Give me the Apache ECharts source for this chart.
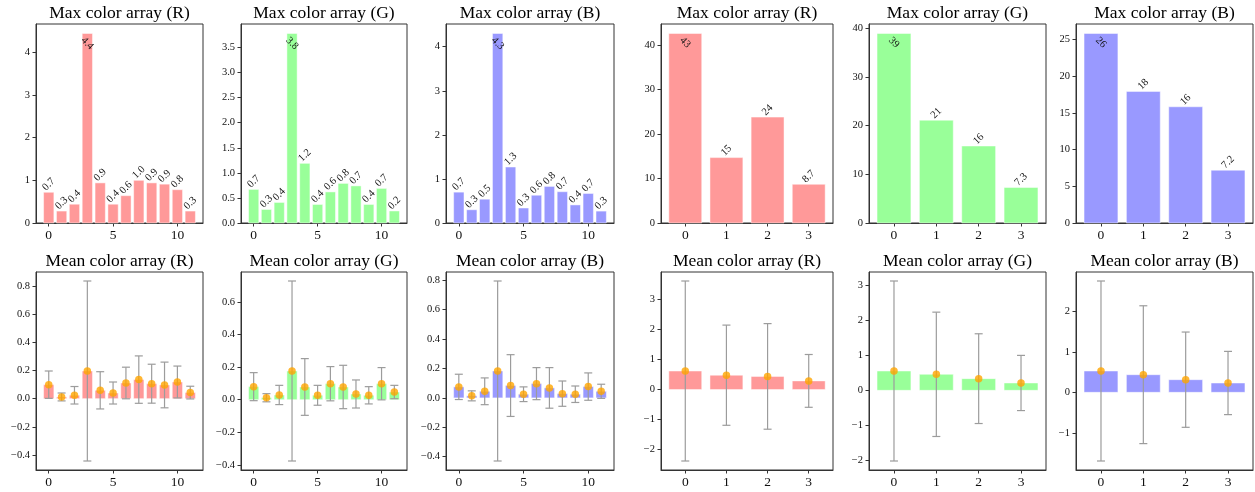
<!DOCTYPE html>
<html><head><meta charset="utf-8">
<script src="https://cdn.jsdelivr.net/npm/echarts@6/dist/echarts.min.js"></script>
<style>html,body{margin:0;padding:0;background:#fff}#c{width:1255px;height:492px}</style>
</head><body><div id="c"></div>
<script>
// ---------- data ----------
const idx12 = [0,1,2,3,4,5,6,7,8,9,10,11];
const idx4 = [0,1,2,3];

const max12R = [0.72, 0.28, 0.44, 4.44, 0.94, 0.44, 0.64, 1.00, 0.94, 0.91, 0.78, 0.28];
const max12G = [0.67, 0.27, 0.41, 3.78, 1.19, 0.37, 0.62, 0.79, 0.74, 0.37, 0.69, 0.24];
const max12B = [0.70, 0.30, 0.54, 4.30, 1.27, 0.34, 0.63, 0.83, 0.71, 0.41, 0.67, 0.27];
const max4R = [42.6, 14.7, 23.8, 8.7];
const max4G = [38.9, 21.1, 15.8, 7.3];
const max4B = [25.85, 17.95, 15.85, 7.2];

const mean12R = [0.099, 0.012, 0.024, 0.196, 0.059, 0.040, 0.111, 0.135, 0.106, 0.097, 0.118, 0.043];
const std12R  = [0.097, 0.028, 0.062, 0.638, 0.132, 0.078, 0.112, 0.168, 0.138, 0.162, 0.113, 0.045];
const mean12G = [0.080, 0.012, 0.029, 0.176, 0.078, 0.027, 0.098, 0.078, 0.035, 0.027, 0.098, 0.047];
const std12G  = [0.086, 0.025, 0.059, 0.552, 0.174, 0.061, 0.105, 0.133, 0.086, 0.053, 0.099, 0.041];
const mean12B = [0.075, 0.014, 0.045, 0.183, 0.084, 0.025, 0.097, 0.068, 0.029, 0.025, 0.077, 0.045];
const std12B  = [0.086, 0.034, 0.091, 0.612, 0.210, 0.050, 0.109, 0.138, 0.086, 0.056, 0.093, 0.048];
const mean4R = [0.62, 0.48, 0.44, 0.29];
const std4R  = [3.00, 1.67, 1.76, 0.88];
const mean4G = [0.553, 0.458, 0.334, 0.21];
const std4G  = [2.577, 1.78, 1.285, 0.79];
const mean4B = [0.526, 0.435, 0.312, 0.23];
const std4B  = [2.22, 1.70, 1.175, 0.78];

const xTicks12 = [0, 5, 10];
const xTicks4 = [0, 1, 2, 3];
const yTicksMax12R = [0, 1, 2, 3, 4];
const yTicksMax12G = [0, 0.5, 1, 1.5, 2, 2.5, 3, 3.5];
const yTicksMax12B = [0, 1, 2, 3, 4];
const yTicksMax4R = [0, 10, 20, 30, 40];
const yTicksMax4G = [0, 10, 20, 30, 40];
const yTicksMax4B = [0, 5, 10, 15, 20, 25];
const yTicksMean12R = [-0.4, -0.2, 0, 0.2, 0.4, 0.6, 0.8];
const yTicksMean12G = [-0.4, -0.2, 0, 0.2, 0.4, 0.6];
const yTicksMean12B = [-0.4, -0.2, 0, 0.2, 0.4, 0.6, 0.8];
const yTicksMean4R = [-2, -1, 0, 1, 2, 3];
const yTicksMean4G = [-2, -1, 0, 1, 2, 3];
const yTicksMean4B = [-1, 0, 1, 2];

const titlesMax = ['Max color array (R)', 'Max color array (G)', 'Max color array (B)'];
const titlesMean = ['Mean color array (R)', 'Mean color array (G)', 'Mean color array (B)'];
const barColors = ['#ff9999', '#99ff99', '#9999ff'];

// ---------- layout ----------
const colLeft = [36, 241, 446, 661, 869, 1076];
const colWidth = [167, 166, 168, 172, 177, 177];
const rowTop = [24, 272];
const rowHeight = [199, 198];
const FONT = '"Liberation Serif", "Times New Roman", serif';

const measureCtx = document.createElement('canvas').getContext('2d');
function textWidth(t, size) { measureCtx.font = size + 'px ' + FONT; return measureCtx.measureText(t).width; }
function fmtLabel(v) { return v >= 10 ? String(Math.round(v)) : v.toFixed(1); }
function fmtTick(dec) { return v => (dec ? v.toFixed(dec) : String(Math.round(v))).replace('-', '\u2212'); }

const topPanels = [
  {x: idx12, v: max12R, c: 0, yt: yTicksMax12R, dec: 0, xt: xTicks12},
  {x: idx12, v: max12G, c: 1, yt: yTicksMax12G, dec: 1, xt: xTicks12},
  {x: idx12, v: max12B, c: 2, yt: yTicksMax12B, dec: 0, xt: xTicks12},
  {x: idx4, v: max4R, c: 0, yt: yTicksMax4R, dec: 0, xt: xTicks4},
  {x: idx4, v: max4G, c: 1, yt: yTicksMax4G, dec: 0, xt: xTicks4},
  {x: idx4, v: max4B, c: 2, yt: yTicksMax4B, dec: 0, xt: xTicks4}
];
const botPanels = [
  {x: idx12, m: mean12R, s: std12R, c: 0, yt: yTicksMean12R, dec: 1, xt: xTicks12},
  {x: idx12, m: mean12G, s: std12G, c: 1, yt: yTicksMean12G, dec: 1, xt: xTicks12},
  {x: idx12, m: mean12B, s: std12B, c: 2, yt: yTicksMean12B, dec: 1, xt: xTicks12},
  {x: idx4, m: mean4R, s: std4R, c: 0, yt: yTicksMean4R, dec: 0, xt: xTicks4},
  {x: idx4, m: mean4G, s: std4G, c: 1, yt: yTicksMean4G, dec: 0, xt: xTicks4},
  {x: idx4, m: mean4B, s: std4B, c: 2, yt: yTicksMean4B, dec: 0, xt: xTicks4}
];

const grid = [], xAxis = [], yAxis = [], series = [], title = [];
const LABEL_SIZE = 10.5;

function addAxes(k, row, col, xs, xt, yMin, yMax, yt, dec) {
  grid.push({left: colLeft[col], top: rowTop[row], width: colWidth[col], height: rowHeight[row],
    show: true, borderColor: '#333', borderWidth: 1, backgroundColor: 'transparent', containLabel: false});
  const xlo = xs[0] - 0.4, xhi = xs[xs.length - 1] + 0.4, xpad = 0.05 * (xhi - xlo);
  xAxis.push({type: 'value', gridIndex: k, min: xlo - xpad, max: xhi + xpad,
    axisLine: {show: true, onZero: false, lineStyle: {color: '#333', width: 1}},
    splitLine: {show: false},
    axisTick: {show: true, length: 3.5, lineStyle: {color: '#333'}, customValues: xt},
    axisLabel: {show: true, customValues: xt, fontFamily: FONT, fontSize: 13.5, color: '#111', margin: 5.5,
      formatter: v => String(v)}});
  yAxis.push({type: 'value', gridIndex: k, min: yMin, max: yMax,
    axisLine: {show: true, onZero: false, lineStyle: {color: '#333', width: 1}},
    splitLine: {show: false},
    axisTick: {show: true, length: 3.5, lineStyle: {color: '#333'}, customValues: yt},
    axisLabel: {show: true, customValues: yt, fontFamily: FONT, fontSize: 10.5, color: '#111', margin: 6,
      formatter: fmtTick(dec)}});
}

function addTitle(text, row, col) {
  title.push({text: text, left: colLeft[col] + colWidth[col] / 2, top: row === 0 ? 4 : 252, textAlign: 'center', padding: 0,
    textStyle: {fontFamily: FONT, fontSize: 17.5, fontWeight: 'normal', color: '#000'}});
}

// top row
topPanels.forEach((p, i) => {
  const k = i;
  const vmax = Math.max(...p.v);
  addAxes(k, 0, i, p.x, p.xt, 0, vmax * 1.05, p.yt, p.dec);
  addTitle(titlesMax[p.c], 0, i);
  const color = barColors[p.c];
  series.push({type: 'custom', xAxisIndex: k, yAxisIndex: k, data: p.x.map((x, j) => [x, p.v[j]]),
    renderItem: (params, api) => {
      const x = api.value(0), v = api.value(1);
      const p0 = api.coord([x, 0]), p1 = api.coord([x, v]);
      const w = api.size([0.8, 0])[0];
      const txt = fmtLabel(v);
      const tw = textWidth(txt, LABEL_SIZE);
      const half = (tw + 0.75 * LABEL_SIZE) / (2 * Math.SQRT2);
      const isMax = v === vmax;
      const cy = isMax ? p1[1] + half + 2.5 : p1[1] - half - 0.5;
      return {type: 'group', children: [
        {type: 'rect', shape: {x: p0[0] - w / 2, y: p1[1], width: w, height: p0[1] - p1[1]},
          style: {fill: color, stroke: 'rgba(255,255,255,0.6)', lineWidth: 0.8}},
        {type: 'text', x: p0[0], y: cy, rotation: isMax ? -Math.PI / 4 : Math.PI / 4,
          style: {text: txt, x: 0, y: 0, align: 'center', verticalAlign: 'middle',
            fontFamily: FONT, fontSize: LABEL_SIZE, fill: '#111'}}
      ]};
    }});
});

// bottom row
botPanels.forEach((p, i) => {
  const k = 6 + i;
  const lows = p.m.map((m, j) => m - p.s[j]), highs = p.m.map((m, j) => m + p.s[j]);
  const lo = Math.min(0, ...lows), hi = Math.max(0, ...highs), pad = 0.05 * (hi - lo);
  addAxes(k, 1, i, p.x, p.xt, lo - pad, hi + pad, p.yt, p.dec);
  addTitle(titlesMean[p.c], 1, i);
  const color = barColors[p.c];
  series.push({type: 'custom', xAxisIndex: k, yAxisIndex: k, data: p.x.map((x, j) => [x, p.m[j]]),
    renderItem: (params, api) => {
      const x = api.value(0), v = api.value(1);
      const p0 = api.coord([x, 0]), p1 = api.coord([x, v]);
      const w = api.size([0.8, 0])[0];
      return {type: 'rect', shape: {x: p0[0] - w / 2, y: Math.min(p0[1], p1[1]), width: w, height: Math.abs(p0[1] - p1[1])},
        style: {fill: color, stroke: 'rgba(255,255,255,0.6)', lineWidth: 0.8}};
    }});
  series.push({type: 'custom', xAxisIndex: k, yAxisIndex: k, data: p.x.map((x, j) => [x, p.m[j], p.s[j]]),
    renderItem: (params, api) => {
      const x = api.value(0), m = api.value(1), s = api.value(2);
      const a = api.coord([x, m + s]), b = api.coord([x, m - s]);
      const cap = 4;
      const st = {stroke: '#9c9c9c', lineWidth: 1.2};
      return {type: 'group', children: [
        {type: 'line', shape: {x1: a[0], y1: a[1], x2: b[0], y2: b[1]}, style: st},
        {type: 'line', shape: {x1: a[0] - cap, y1: a[1], x2: a[0] + cap, y2: a[1]}, style: st},
        {type: 'line', shape: {x1: b[0] - cap, y1: b[1], x2: b[0] + cap, y2: b[1]}, style: st}
      ]};
    }});
  series.push({type: 'scatter', xAxisIndex: k, yAxisIndex: k, data: p.x.map((x, j) => [x, p.m[j]]),
    symbol: 'circle', symbolSize: 7.5, itemStyle: {color: '#ffa500'}, z: 5});
});

const chart = echarts.init(document.getElementById('c'), null, {renderer: 'canvas'});
chart.setOption({animation: false, backgroundColor: '#fff', title, grid, xAxis, yAxis, series});
</script></body></html>
